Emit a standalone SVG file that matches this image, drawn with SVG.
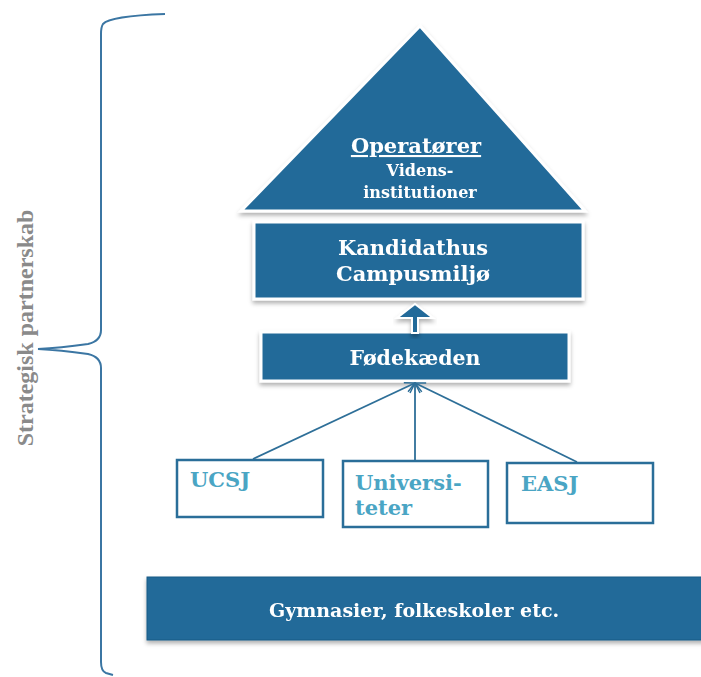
<svg xmlns="http://www.w3.org/2000/svg" width="701" height="677" viewBox="0 0 701 677">
<style>
.dark{fill:#236a99;}
.framed{stroke:#ffffff;stroke-width:3;}
.wt{fill:#ffffff;font-family:"DejaVu Serif","Liberation Serif",serif;font-weight:bold;text-anchor:middle;}
.lt{fill:#4aa5c4;font-family:"DejaVu Serif","Liberation Serif",serif;font-weight:bold;font-size:21px;}
.small{fill:#ffffff;stroke:#2a6e99;stroke-width:2.5;}
.conn{stroke:#2e6f98;stroke-width:1.8;fill:none;}
</style>
<defs>
<filter id="sh" x="-10%" y="-10%" width="120%" height="130%">
<feDropShadow dx="0" dy="3" stdDeviation="2" flood-color="#000000" flood-opacity="0.3"/>
</filter>
<marker id="open" viewBox="0 0 12 12" refX="11" refY="6" markerWidth="12" markerHeight="12" markerUnits="userSpaceOnUse" orient="auto">
<path d="M1,1 L11,6 L1,11" fill="none" stroke="#2e6f98" stroke-width="1.5"/>
</marker>
</defs>
<rect width="701" height="677" fill="#ffffff"/>

<g id="brace">
<path d="M165,14 Q110,16 103,24 Q101,27 101,34 L101,330 Q101,341 88,344 Q60,348 38,349 Q60,350 88,354 Q101,357 101,368 L101,662 Q101,671 106,673 L113,675" fill="none" stroke="#3b76a3" stroke-width="2"/>
<text x="0" y="0" transform="translate(33,328) rotate(-90)" fill="#8a8a8a" font-family="Liberation Serif,serif" font-weight="bold" font-size="24" text-anchor="middle">Strategisk partnerskab</text>
</g>

<g id="operatorer" filter="url(#sh)">
<polygon class="dark framed" points="420,26 241,211 585,211"/>
<text class="wt" x="416" y="153" font-size="21" text-decoration="underline">Operatører</text>
<text class="wt" x="420" y="176" font-size="16">Videns-</text>
<text class="wt" x="420" y="198" font-size="16">institutioner</text>
</g>

<g id="kandidathus" filter="url(#sh)">
<rect class="dark framed" x="254" y="222" width="329" height="77"/>
<text class="wt" x="413" y="255" font-size="21">Kandidathus</text>
<text class="wt" x="413" y="281" font-size="21">Campusmiljø</text>
</g>

<g id="fodekaeden" filter="url(#sh)">
<rect class="dark framed" x="261" y="332" width="308" height="49"/>
<text class="wt" x="415" y="365" font-size="20.5">Fødekæden</text>
</g>

<g id="ucsj">
<rect class="small" x="177" y="460" width="146" height="57"/>
<text class="lt" x="190" y="487">UCSJ</text>
</g>

<g id="universiteter">
<rect class="small" x="343" y="461" width="145" height="66"/>
<text class="lt" x="355" y="490">Universi-</text>
<text class="lt" x="355" y="515">teter</text>
</g>

<g id="easj">
<rect class="small" x="507" y="463" width="146" height="60"/>
<text class="lt" x="521" y="491">EASJ</text>
</g>

<g id="gymnasier" filter="url(#sh)">
<rect class="dark" x="147" y="577" width="560" height="63" stroke="#1d5a85" stroke-width="1"/>
<text class="wt" x="414" y="617" font-size="19">Gymnasier, folkeskoler etc.</text>
</g>

<g id="connectors">
<path d="M412,333 L412,318 L397,318 L415,304 L433,318 L418,318 L418,333 Z" class="dark" stroke="#ffffff" stroke-width="2" filter="url(#sh)"/>
<line class="conn" x1="253" y1="459" x2="415" y2="383" marker-end="url(#open)"/>
<line class="conn" x1="415" y1="460" x2="415" y2="383" marker-end="url(#open)"/>
<line class="conn" x1="577" y1="462" x2="415" y2="383" marker-end="url(#open)"/>
</g>
</svg>
